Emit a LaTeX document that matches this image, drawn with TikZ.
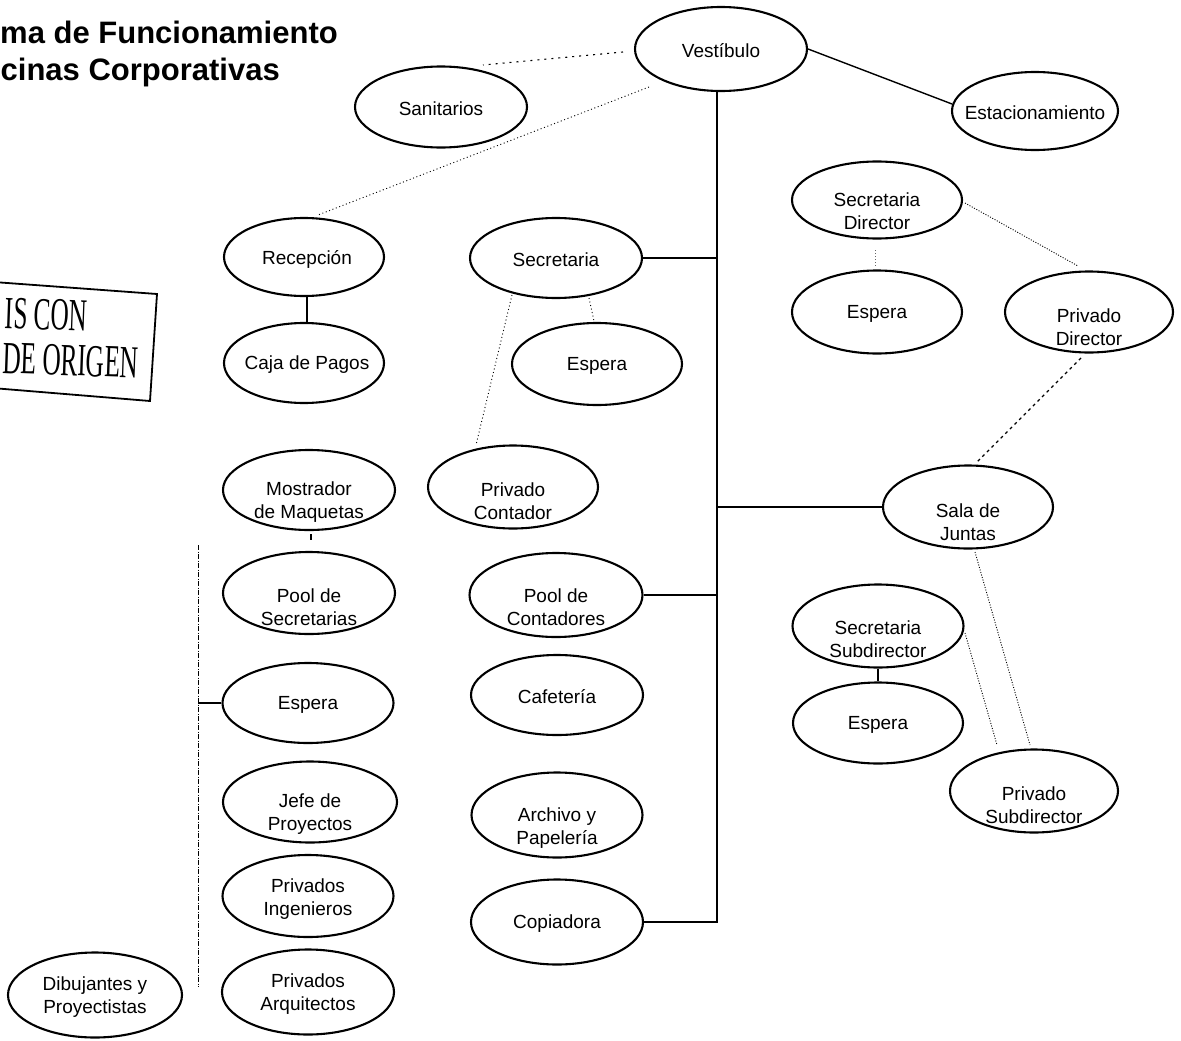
\documentclass[tikz,border=0pt]{standalone}
\usepackage{fontspec}
\setmainfont{Liberation Sans}
\newfontfamily\stampfont{Liberation Serif}
\usetikzlibrary{shapes.geometric,calc}

\tikzset{
  room/.style 2 args={ellipse, draw=black, line width=2.1pt,
    minimum width=#1pt, minimum height=#2pt, inner sep=0pt},
  txt/.style={font=\fontsize{19}{22.5}\selectfont, align=center, inner sep=0pt, yshift=-2pt},
  link/.style={line width=1.4pt, black},
  thinlink/.style={line width=1.1pt, black},
  sparse/.style={line width=1.1pt, dash pattern=on 2pt off 5pt},
  dotline/.style={line width=0.9pt, dash pattern=on 1pt off 2.6pt},
  densedot/.style={line width=0.9pt, dash pattern=on 1pt off 1.6pt},
  dashline/.style={line width=1.2pt, dash pattern=on 3pt off 3.5pt},
  busline/.style={line width=0.8pt, dash pattern=on 5pt off 1.5pt on 1pt off 1.5pt},
  faint/.style={line width=0.7pt, black!60, dash pattern=on 1pt off 2pt},
  stamptxt/.style={anchor=base east, inner sep=0pt, rotate=-2, xscale=0.55,
    font=\stampfont\fontsize{46}{48}\selectfont},
}

\begin{document}
\begin{tikzpicture}[x=1pt, y=-1pt]
\useasboundingbox (0,0) rectangle (1181,1041);

% title
\node[anchor=base east, inner sep=0pt, font=\bfseries\fontsize{31}{36}\selectfont] (title1) at (338,44) {ma de Funcionamiento};
\node[anchor=base east, inner sep=0pt, font=\bfseries\fontsize{31}{36}\selectfont] (title2) at (280,81) {cinas Corporativas};

% stamp
\draw[line width=1.8pt] (-20,281) -- (157,294) -- (150,401) -- (-20,387);
\node[stamptxt] (stamp1) at (87,331) {IS CON};
\node[stamptxt] (stamp2) at (138,378) {DE ORIGEN};

% rooms
\node[room={172}{84}, label={[txt]center:Vestíbulo}] (vest) at (721,49) {};
\node[room={172}{81}, label={[txt]center:Sanitarios}] (san) at (441,107) {};
\node[room={166}{78}, label={[txt]center:Estacionamiento}] (est) at (1035,111) {};
\node[room={160}{78}, label={[txt,xshift=3pt]center:Recepción}] (rec) at (304,257) {};
\node[room={160}{80}, label={[txt,xshift=3pt]center:Caja de Pagos}] (caja) at (304,363) {};
\node[room={172}{80}, label={[txt]center:Secretaria}] (sec) at (556,258) {};
\node[room={170}{82}, label={[txt]center:Espera}] (esp2) at (597,364) {};
\node[room={170}{77}, label={[txt,yshift=-9pt]center:Secretaria\\Director}] (sdir) at (877,200) {};
\node[room={170}{83}, label={[txt]center:Espera}] (esp1) at (877,312) {};
\node[room={168}{81}, label={[txt,yshift=-13pt]center:Privado\\Director}] (pdir) at (1089,312) {};
\node[room={170}{83}, label={[txt,yshift=-12pt]center:Privado\\Contador}] (pcon) at (513,487) {};
\node[room={172}{80}, label={[txt,yshift=-10pt]center:Mostrador\\de Maquetas}] (most) at (309,490) {};
\node[room={170}{83}, label={[txt,yshift=-13pt]center:Sala de\\Juntas}] (sala) at (968,507) {};
\node[room={172}{82}, label={[txt,yshift=-12pt]center:Pool de\\Secretarias}] (pools) at (309,593) {};
\node[room={173}{84}, label={[txt,yshift=-10pt]center:Pool de\\Contadores}] (pconts) at (556,595) {};
\node[room={171}{83}, label={[txt,yshift=-11pt]center:Secretaria\\Subdirector}] (ssub) at (878,626) {};
\node[room={171}{80}, label={[txt]center:Espera}] (esp0) at (308,703) {};
\node[room={172}{80}, label={[txt]center:Cafetería}] (caf) at (557,695) {};
\node[room={170}{81}, label={[txt]center:Espera}] (esp3) at (878,723) {};
\node[room={168}{83}, label={[txt,yshift=-12pt]center:Privado\\Subdirector}] (psub) at (1034,791) {};
\node[room={174}{81}, label={[txt,yshift=-10pt]center:Jefe de\\Proyectos}] (jefe) at (310,802) {};
\node[room={171}{85}, label={[txt,yshift=-11pt]center:Archivo y\\Papelería}] (arch) at (557,815) {};
\node[room={171}{82}, label={[txt,yshift=-1pt]center:Privados\\Ingenieros}] (ping) at (308,896) {};
\node[room={172}{85}, label={[txt]center:Copiadora}] (copi) at (557,922) {};
\node[room={172}{85}, label={[txt]center:Privados\\Arquitectos}] (parq) at (308,992) {};
\node[room={174}{85}, label={[txt]center:Dibujantes y\\Proyectistas}] (dib) at (95,995) {};

% main vertical circulation from the lobby
\coordinate (trunk) at (717,0);
\draw[link] (vest.south -| trunk) -- (copi.east -| trunk) -- (copi.east);
\draw[link] (sec.east) -- (sec.east -| trunk);
\draw[link] (sala.west) -- (sala.west -| trunk);
\draw[link] (pconts.east) -- (pconts.east -| trunk);
\draw[link] (vest.east) -- ($(est)+(-83,-7)$);

% secondary relations
\draw[sparse] ($(vest)+(-98,3)$) -- ($(san)+(42,-42)$);
\draw[dotline] ($(vest)+(-72,38)$) -- ($(rec)+(14,-42)$);
\draw[thinlink] ($(rec.south)+(3,0)$) -- ($(caja.north)+(3,0)$);
\draw[dotline] ($(sec)+(-44,37)$) -- ($(pcon)+(-37,-42)$);
\draw[dotline] ($(sec)+(33,40)$) -- ($(esp2)+(-3,-43)$);
\draw[faint] ($(sdir)+(-2,50)$) -- ($(esp1)+(-2,-46)$);
\draw[densedot] ($(sdir)+(88,3)$) -- ($(pdir)+(-11,-46)$);
\draw[dashline] ($(pdir)+(-8,46)$) -- ($(sala)+(9,-45)$);
\draw[densedot] ($(sala)+(7,45)$) -- ($(psub)+(-4,-46)$);
\draw[densedot] ($(ssub)+(87,7)$) -- ($(psub)+(-37,-46)$);
\draw[thinlink] (ssub.south) -- (esp3.north);
\draw[thinlink] ($(most.south)+(2,3)$) -- ($(pools.north)+(2,-11)$);

% work-area bus on the left
\coordinate (bustop) at (198,545);
\coordinate (busbot) at (198,987);
\draw[busline] (bustop) -- (busbot);
\draw[thinlink] (esp0.west) -- (esp0.west -| bustop);
\end{tikzpicture}
\end{document}
